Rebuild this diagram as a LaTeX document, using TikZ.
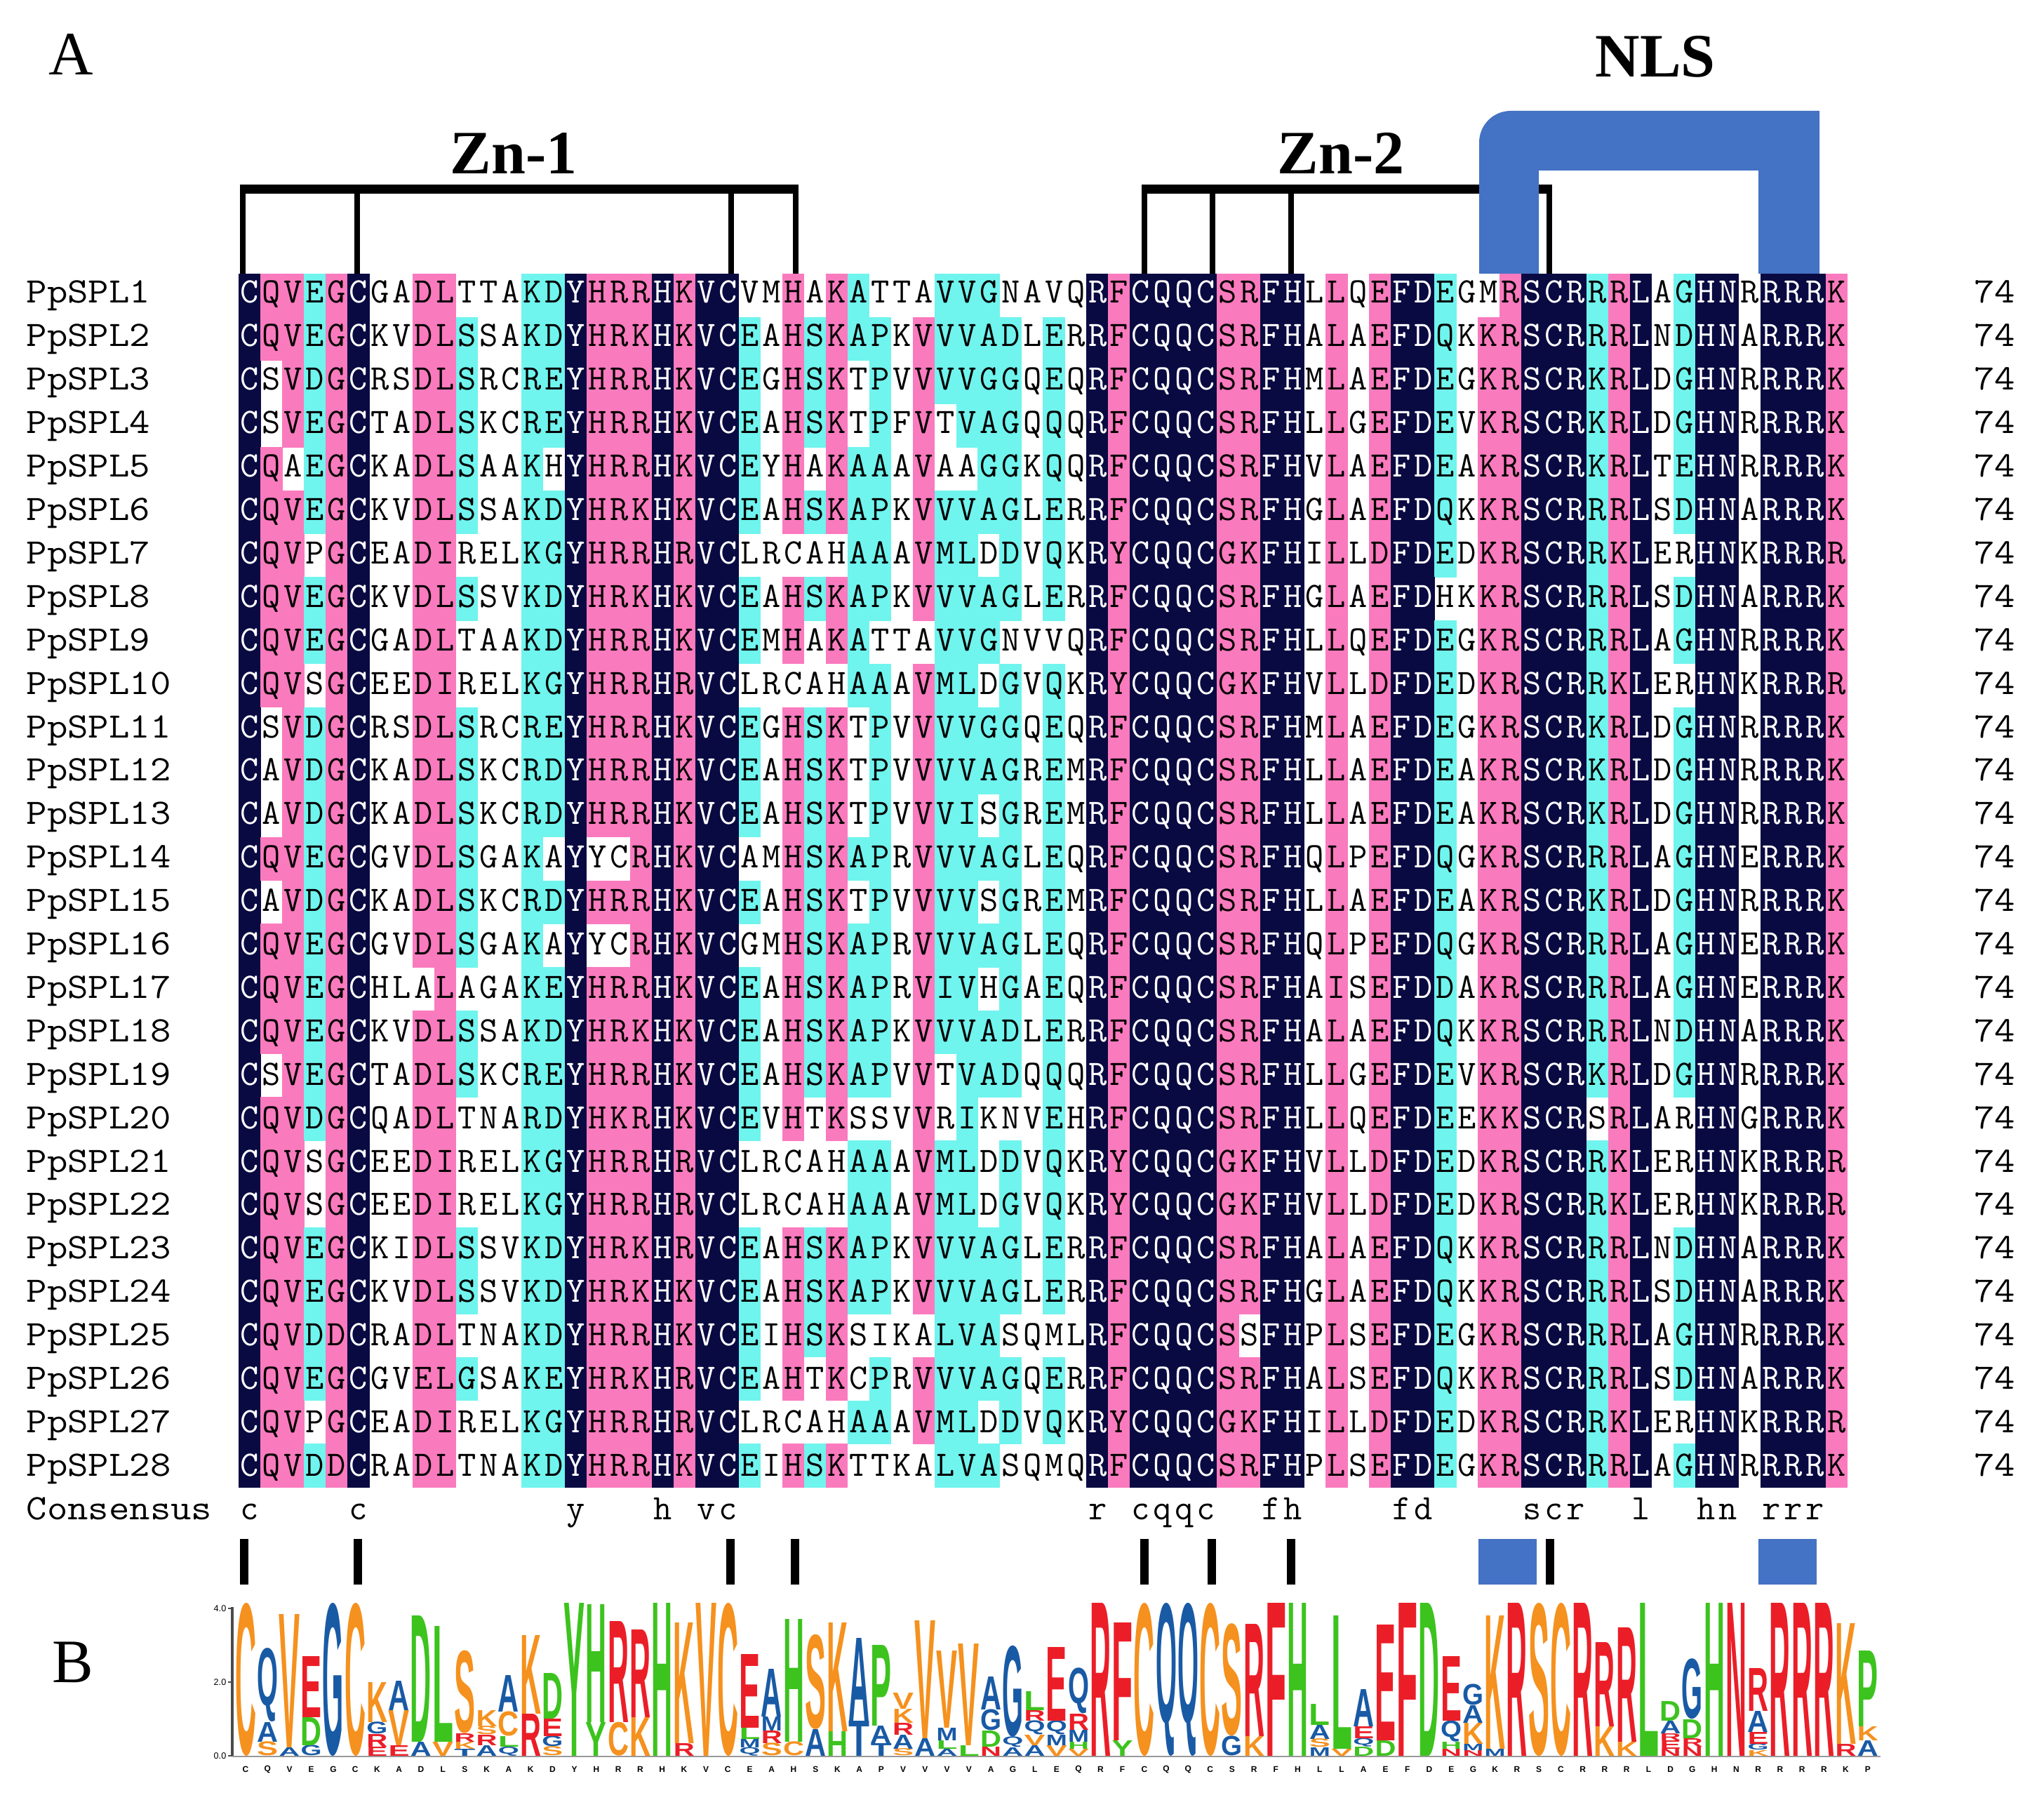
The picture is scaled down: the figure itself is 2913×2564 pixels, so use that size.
\documentclass[tikz,border=0pt]{standalone}
\usepackage{fontspec}
\setmainfont{Liberation Serif}
\setsansfont{Liberation Sans}
\usepackage{graphicx}
\definecolor{navyc}{RGB}{10,10,66}
\definecolor{pinkc}{RGB}{250,122,190}
\definecolor{cyanc}{RGB}{112,244,238}
\definecolor{nlsblue}{RGB}{68,114,196}
\definecolor{lgorange}{RGB}{245,145,30}
\definecolor{lgblue}{RGB}{25,90,165}
\definecolor{lgred}{RGB}{235,30,40}
\definecolor{lggreen}{RGB}{60,195,30}
\colorlet{lgC}{lgorange}\colorlet{lgV}{lgorange}\colorlet{lgK}{lgorange}\colorlet{lgS}{lgorange}\colorlet{lgI}{lgorange}
\colorlet{lgQ}{lgblue}\colorlet{lgG}{lgblue}\colorlet{lgA}{lgblue}\colorlet{lgT}{lgblue}\colorlet{lgM}{lgblue}
\colorlet{lgE}{lgred}\colorlet{lgR}{lgred}\colorlet{lgF}{lgred}\colorlet{lgN}{lgred}
\colorlet{lgD}{lggreen}\colorlet{lgL}{lggreen}\colorlet{lgY}{lggreen}\colorlet{lgH}{lggreen}\colorlet{lgP}{lggreen}
\newdimen\logou \logou=0.01cm
\newcount\alncol
\newcommand\alnfont{\ttfamily\fontsize{14.5}{14.5}\selectfont}
\foreach \s [count=\i] in {NC,PQ,PV,CED,PGD,NC,W,W,PDE,PLI,CSG,W,W,CKR,CDEG,NY,PH,PRK,PRK,NH,PKR,NV,NC,CE,W,PH,CS,PK,CA,CPA,W,PV,CVMLI,CVLI,CAG,CGD,W,CEQ,W,NR,PFY,NC,NQ,NQ,NC,PSG,PRK,NF,NH,W,PLI,W,PED,NF,ND,CEQD,W,PK,PRK,NS,NC,NR,CRK,PRK,NL,W,CGDE,NH,NN,W,NR,NR,NR,PKR}{\expandafter\xdef\csname alnspec\i\endcsname{\s}}
\foreach \s [count=\i] in {
CQVEGCGADLTTAKDYHRRHKVCVMHAKATTAVVGNAVQRFCQQCSRFHLLQEFDEGMRSCRRRLAGHNRRRRK,
CQVEGCKVDLSSAKDYHRKHKVCEAHSKAPKVVVADLERRFCQQCSRFHALAEFDQKKRSCRRRLNDHNARRRK,
CSVDGCRSDLSRCREYHRRHKVCEGHSKTPVVVVGGQEQRFCQQCSRFHMLAEFDEGKRSCRKRLDGHNRRRRK,
CSVEGCTADLSKCREYHRRHKVCEAHSKTPFVTVAGQQQRFCQQCSRFHLLGEFDEVKRSCRKRLDGHNRRRRK,
CQAEGCKADLSAAKHYHRRHKVCEYHAKAAAVAAGGKQQRFCQQCSRFHVLAEFDEAKRSCRKRLTEHNRRRRK,
CQVEGCKVDLSSAKDYHRKHKVCEAHSKAPKVVVAGLERRFCQQCSRFHGLAEFDQKKRSCRRRLSDHNARRRK,
CQVPGCEADIRELKGYHRRHRVCLRCAHAAAVMLDDVQKRYCQQCGKFHILLDFDEDKRSCRRKLERHNKRRRR,
CQVEGCKVDLSSVKDYHRKHKVCEAHSKAPKVVVAGLERRFCQQCSRFHGLAEFDHKKRSCRRRLSDHNARRRK,
CQVEGCGADLTAAKDYHRRHKVCEMHAKATTAVVGNVVQRFCQQCSRFHLLQEFDEGKRSCRRRLAGHNRRRRK,
CQVSGCEEDIRELKGYHRRHRVCLRCAHAAAVMLDGVQKRYCQQCGKFHVLLDFDEDKRSCRRKLERHNKRRRR,
CSVDGCRSDLSRCREYHRRHKVCEGHSKTPVVVVGGQEQRFCQQCSRFHMLAEFDEGKRSCRKRLDGHNRRRRK,
CAVDGCKADLSKCRDYHRRHKVCEAHSKTPVVVVAGREMRFCQQCSRFHLLAEFDEAKRSCRKRLDGHNRRRRK,
CAVDGCKADLSKCRDYHRRHKVCEAHSKTPVVVISGREMRFCQQCSRFHLLAEFDEAKRSCRKRLDGHNRRRRK,
CQVEGCGVDLSGAKAYYCRHKVCAMHSKAPRVVVAGLEQRFCQQCSRFHQLPEFDQGKRSCRRRLAGHNERRRK,
CAVDGCKADLSKCRDYHRRHKVCEAHSKTPVVVVSGREMRFCQQCSRFHLLAEFDEAKRSCRKRLDGHNRRRRK,
CQVEGCGVDLSGAKAYYCRHKVCGMHSKAPRVVVAGLEQRFCQQCSRFHQLPEFDQGKRSCRRRLAGHNERRRK,
CQVEGCHLALAGAKEYHRRHKVCEAHSKAPRVIVHGAEQRFCQQCSRFHAISEFDDAKRSCRRRLAGHNERRRK,
CQVEGCKVDLSSAKDYHRKHKVCEAHSKAPKVVVADLERRFCQQCSRFHALAEFDQKKRSCRRRLNDHNARRRK,
CSVEGCTADLSKCREYHRRHKVCEAHSKAPVVTVADQQQRFCQQCSRFHLLGEFDEVKRSCRKRLDGHNRRRRK,
CQVDGCQADLTNARDYHKRHKVCEVHTKSSVVRIKNVEHRFCQQCSRFHLLQEFDEEKKSCRSRLARHNGRRRK,
CQVSGCEEDIRELKGYHRRHRVCLRCAHAAAVMLDDVQKRYCQQCGKFHVLLDFDEDKRSCRRKLERHNKRRRR,
CQVSGCEEDIRELKGYHRRHRVCLRCAHAAAVMLDGVQKRYCQQCGKFHVLLDFDEDKRSCRRKLERHNKRRRR,
CQVEGCKIDLSSVKDYHRKHRVCEAHSKAPKVVVAGLERRFCQQCSRFHALAEFDQKKRSCRRRLNDHNARRRK,
CQVEGCKVDLSSVKDYHRKHKVCEAHSKAPKVVVAGLERRFCQQCSRFHGLAEFDQKKRSCRRRLSDHNARRRK,
CQVDDCRADLTNAKDYHRRHKVCEIHSKSIKALVASQMLRFCQQCSSFHPLSEFDEGKRSCRRRLAGHNRRRRK,
CQVEGCGVELGSAKEYHRKHRVCEAHTKCPRVVVAGQERRFCQQCSRFHALSEFDQKKRSCRRRLSDHNARRRK,
CQVPGCEADIRELKGYHRRHRVCLRCAHAAAVMLDDVQKRYCQQCGKFHILLDFDEDKRSCRRKLERHNKRRRR,
CQVDDCRADLTNAKDYHRRHKVCEIHSKTTKALVASQMQRFCQQCSRFHPLSEFDEGKRSCRRRLAGHNRRRRK}{\expandafter\xdef\csname alnseq\i\endcsname{\s}}
\makeatletter
\def\alnsplit#1#2\relax{\def\alnlev{#1}\def\alnset{#2}}
\def\alnrowloop#1{%
  \ifx#1\relax\else
    \global\advance\alncol by 1
    \alncell{#1}%
    \expandafter\alnrowloop
  \fi}
\def\alncell#1{%
  \edef\alnspec{\csname alnspec\the\alncol\endcsname}%
  \expandafter\alnsplit\alnspec\relax
  \def\alntmp{\in@{#1}}\expandafter\alntmp\expandafter{\alnset}%
  \pgfmathsetmacro\cx{340.4+(\the\alncol-0.5)*30.98}%
  \def\alntext{black}%
  \ifin@
    \if N\alnlev \fill[navyc] (\cx-15.75,\ctop) rectangle ++(31.5,62.3); \def\alntext{white}\fi
    \if P\alnlev \fill[pinkc] (\cx-15.75,\ctop) rectangle ++(31.5,62.3); \fi
    \if C\alnlev \fill[cyanc] (\cx-15.75,\ctop) rectangle ++(31.5,62.3); \fi
  \fi
  \node[inner sep=0pt,text=\alntext,anchor=base,font=\alnfont] at (\cx,\cbase) {#1};%
}
\makeatother
\newcommand\logocol[2]{%
  \gdef\logoy{0}%
  \pgfmathsetmacro\lx{334.4+(#1-1)*31.24+0.6}%
  \foreach \L/\h in {#2}{%
    \node[inner sep=0pt,outer sep=0pt,anchor=south west,text=lg\L] at (\lx,2502-\logoy) {\resizebox*{30\logou}{\h\logou}{\sffamily\bfseries\L}};%
    \pgfmathsetmacro\logoynew{\logoy+\h}%
    \xdef\logoy{\logoynew}%
  }%
}
\tikzset{
  biglabel/.style={inner sep=0pt,font=\fontsize{25}{25}\selectfont\bfseries,anchor=base},
  panel/.style={inner sep=0pt,font=\fontsize{25}{25}\selectfont,anchor=base west},
  rowname/.style={inner sep=0pt,anchor=base west,font=\alnfont},
  tinylab/.style={inner sep=0pt,font=\fontsize{3.4}{4}\selectfont\sffamily\bfseries}
}
\begin{document}
\begin{tikzpicture}[x=0.01cm,y=-0.01cm]
\useasboundingbox[fill=white] (0,0) rectangle (2913,2564);
% panel labels
\node[panel] (pA) at (69,107) {A};
\node[panel] (pB) at (74,2397) {B};
% alignment
\foreach \r in {1,...,28}{%
  \pgfmathsetmacro\ctop{390+(\r-1)*61.75}%
  \pgfmathsetmacro\cbase{432+(\r-1)*61.9}%
  \global\alncol=0
  \edef\alncur{\csname alnseq\r\endcsname}%
  \expandafter\alnrowloop\alncur\relax
  \node[rowname] (n\r) at (37,\cbase) {\scalebox{1.12}[1]{PpSPL\r}};
  \node[rowname,anchor=base east] (e\r) at (2873,\cbase) {\scalebox{1.12}[1]{74}};
}
\node[rowname] (cons) at (37,2165) {\scalebox{1.12}[1]{Consensus}};
\foreach \c/\l in {1/c,6/c,16/y,20/h,22/v,23/c,40/r,42/c,43/q,44/q,45/c,48/f,49/h,54/f,55/d,60/s,61/c,62/r,65/l,68/h,69/n,71/r,72/r,73/r}{%
  \node[inner sep=0pt,anchor=base,font=\alnfont] at ({340.4+(\c-0.5)*30.98},2165) {\l};
}
% Zn brackets
\fill[black] (342,263) rectangle (1138,276);
\foreach \x in {346,509,1042,1134}{\fill[black] (\x-4,270) rectangle (\x+4,390);}
\fill[black] (1627,263) rectangle (2212,276);
\foreach \x in {1631,1728,1840,2208}{\fill[black] (\x-4,270) rectangle (\x+4,390);}
\node[biglabel] (zn1) at (732,248) {Zn-1};
\node[biglabel] (zn2) at (1911,248) {Zn-2};
% NLS
\fill[nlsblue] (2108,390) -- (2108,203) .. controls (2108,178) and (2128,158) .. (2153,158) -- (2593,158) -- (2593,390) -- (2506,390) -- (2506,243) -- (2193,243) -- (2193,390) -- cycle;
\node[biglabel] (nls) at (2359,110) {NLS};
% lower markers
\foreach \x in {348,510,1041,1133,1631,1727,1840,2209}{\fill[black] (\x-6,2193) rectangle (\x+6,2258);}
\fill[nlsblue] (2107,2193) rectangle (2190,2258);
\fill[nlsblue] (2506,2193) rectangle (2589,2258);
% logo axes
\draw[line width=1.2pt,black!70] (331,2290) -- (331,2503);
\draw[line width=0.6pt,black!40] (331,2503) -- (2680,2503);
\foreach \y/\t in {2292/4.0,2397/2.0,2502/0.0}{%
  \draw[line width=0.8pt,black!70] (325,\y) -- (331,\y);
  \node[tinylab,anchor=east,font=\fontsize{3.6}{4}\selectfont\sffamily] at (323,\y) {\t};
}
\foreach \l [count=\i] in {C,Q,V,E,G,C,K,A,D,L,S,K,A,K,D,Y,H,R,R,H,K,V,C,E,A,H,S,K,A,P,V,V,V,V,A,G,L,E,Q,R,F,C,Q,Q,C,S,R,F,H,L,L,A,E,F,D,E,G,K,R,S,C,R,R,R,L,D,G,H,N,R,R,R,R,K,P}{%
  \node[tinylab] at ({350+(\i-1)*31.24},2521) {\l};
}
% logo stacks
\logocol{1}{C/218}
\logocol{2}{S/20,A/28,Q/105}
\logocol{3}{A/12,V/190}
\logocol{4}{G/15,D/40,E/87}
\logocol{5}{G/218}
\logocol{6}{C/218}
\logocol{7}{E/13,R/18,G/17,K/57}
\logocol{8}{E/15,V/50,A/42}
\logocol{9}{A/20,D/180}
\logocol{10}{V/20,L/165}
\logocol{11}{T/10,K/10,R/12,S/118}
\logocol{12}{A/15,R/15,S/12,K/23}
\logocol{13}{Q/13,L/15,C/35,A/52}
\logocol{14}{R/60,K/112}
\logocol{15}{S/13,G/15,E/25,D/65}
\logocol{16}{Y/218}
\logocol{17}{Y/48,H/168}
\logocol{18}{C/48,R/144}
\logocol{19}{K/55,R/125}
\logocol{20}{H/218}
\logocol{21}{R/18,K/172}
\logocol{22}{V/218}
\logocol{23}{C/218}
\logocol{24}{Q/12,M/12,L/16,E/105}
\logocol{25}{S/18,R/18,M/20,A/68}
\logocol{26}{C/20,H/175}
\logocol{27}{A/38,S/135}
\logocol{28}{H/35,K/155}
\logocol{29}{T/50,A/118}
\logocol{30}{T/18,A/25,P/115}
\logocol{31}{S/10,A/20,R/17,K/20,V/23}
\logocol{32}{A/25,V/168}
\logocol{33}{A/10,L/12,M/18,V/110}
\logocol{34}{L/15,V/145}
\logocol{35}{N/13,D/23,G/30,A/47}
\logocol{36}{A/12,Q/15,G/130}
\logocol{37}{A/15,V/15,Q/20,R/15,L/27}
\logocol{38}{V/15,M/15,Q/20,E/105}
\logocol{39}{V/10,H/10,M/17,R/23,Q/65}
\logocol{40}{R/218}
\logocol{41}{Y/22,F/168}
\logocol{42}{C/218}
\logocol{43}{Q/218}
\logocol{44}{Q/218}
\logocol{45}{C/218}
\logocol{46}{G/28,S/160}
\logocol{47}{K/28,R/160}
\logocol{48}{F/218}
\logocol{49}{H/218}
\logocol{50}{M/12,S/12,A/20,L/30}
\logocol{51}{V/10,L/190}
\logocol{52}{D/13,Q/12,E/17,A/53}
\logocol{53}{D/22,E/165}
\logocol{54}{F/218}
\logocol{55}{D/218}
\logocol{56}{N/10,H/10,Q/30,E/92}
\logocol{57}{N/8,M/9,K/30,A/25,G/30}
\logocol{58}{M/10,K/190}
\logocol{59}{R/218}
\logocol{60}{S/218}
\logocol{61}{C/218}
\logocol{62}{R/218}
\logocol{63}{K/42,R/120}
\logocol{64}{K/20,R/163}
\logocol{65}{L/218}
\logocol{66}{N/10,E/12,R/10,A/18,D/28}
\logocol{67}{N/13,R/12,D/27,G/86}
\logocol{68}{H/218}
\logocol{69}{N/218}
\logocol{70}{K/8,G/9,E/17,A/30,R/61}
\logocol{71}{R/218}
\logocol{72}{R/218}
\logocol{73}{R/218}
\logocol{74}{R/17,K/172}
\logocol{75}{A/22,K/20,P/108}
\end{tikzpicture}
\end{document}
